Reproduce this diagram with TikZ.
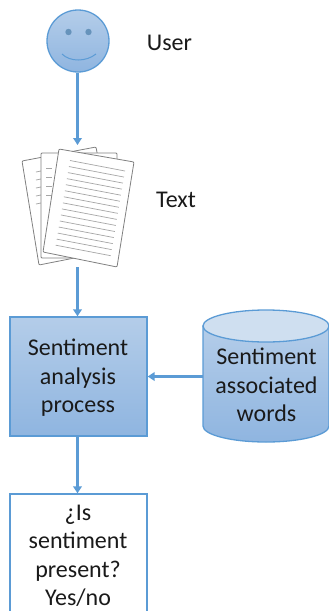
\documentclass[tikz,border=0pt]{standalone}
\usepackage{fontspec}
\setmainfont{Carlito}
\usetikzlibrary{arrows.meta}
\definecolor{edgeblue}{HTML}{5B9BD5}
\definecolor{topblue}{HTML}{B4CDE9}
\definecolor{botblue}{HTML}{8FB5E0}
\definecolor{lidblue}{HTML}{CFDFF0}
\definecolor{txt}{HTML}{1A1A1A}
\definecolor{papr}{HTML}{808080}
\definecolor{rule}{HTML}{A6A6A6}
\tikzset{
  x=1pt,y=-1pt,
  lbl/.style={font=\fontsize{24}{28.5}\selectfont,text=txt,align=center,inner sep=0pt},
  conn/.style={draw=edgeblue,line width=2.2pt,-{Triangle[length=7pt,width=8.5pt]}},
  blueshade/.style={top color=topblue,bottom color=botblue},
  edgeline/.style={draw=edgeblue,line width=1.3pt},
  sheet/.style={draw=papr,fill=white,line width=.8pt,rounded corners=1pt},
  ruling/.style={draw=rule,line width=.7pt}
}
\begin{document}
\begin{tikzpicture}
\useasboundingbox (0,0) rectangle (329,611);
\clip (0,0) rectangle (329,611);
% face
\node[circle,minimum size=62pt,inner sep=0pt,blueshade,edgeline] (user) at (78,41) {};
\fill[fill=edgeblue!70!gray] (68.5,32) circle (3.2pt) (88.5,32) circle (3.2pt);
\draw[edgeblue,line width=1pt] (62,54) .. controls (70,62) and (86,62) .. (96,54);
\node[lbl] (userl) at (169.5,42.5) {User};
% papers
\draw[sheet] (22,161) -- (96,147) -- (115,250) -- (39,265) -- cycle;
\foreach \t in {0,1,...,4}{\draw[ruling] (36,{172+\t*8}) -- (41,{171+\t*8});}
\draw[sheet] (41,153) -- (117,153) -- (117,258) -- (41,258) -- cycle;
\foreach \t in {0,...,3}{\draw[ruling] (46,{168+\t*9}) -- (52,{168+\t*9});}
\draw[sheet] (59,149) -- (134,162) -- (117,267) -- (43,252) -- cycle;
\foreach \t in {0,...,14}{
  \draw[ruling] ({70-\t*1.02},{160.5+\t*6.05}) -- ({125-\t*1.02},{171+\t*6.05});
}
\coordinate (docstop) at (77.5,145);
\coordinate (docsbot) at (77.5,267);
\node[lbl] (textl) at (176,200) {Text};
% process
\node[rectangle,minimum width=137pt,minimum height=119pt,inner sep=0pt,blueshade,edgeline] (proc) at (78.5,376.5) {};
\node[lbl] (procl) at (78,378) {Sentiment\\analysis\\process};
% cylinder
\node[inner sep=0pt,minimum width=126pt,minimum height=132pt] (cyl) at (266,376.5) {};
\path[blueshade,edgeline] (203,326) -- (203,426) arc[start angle=180,end angle=360,x radius=63pt,y radius=16pt] -- (329,326) -- cycle;
\draw[edgeline,fill=lidblue] (266,326) ellipse [x radius=63pt,y radius=16pt];
\node[lbl] (words) at (266.5,385) {Sentiment\\associated\\words};
% result
\node[rectangle,minimum width=137pt,minimum height=150pt,inner sep=0pt,fill=white,edgeline] (res) at (78.5,569) {};
\node[lbl] (resl) at (78,556) {¿Is\\sentiment\\present?\\Yes/no};
% connectors
\draw[conn] (user.south -| docstop) -- (docstop);
\draw[conn] (docsbot) -- (docsbot |- proc.north);
\draw[conn] (cyl.west) -- (proc.east);
\draw[conn] (docsbot |- proc.south) -- (docsbot |- res.north);
\end{tikzpicture}
\end{document}
